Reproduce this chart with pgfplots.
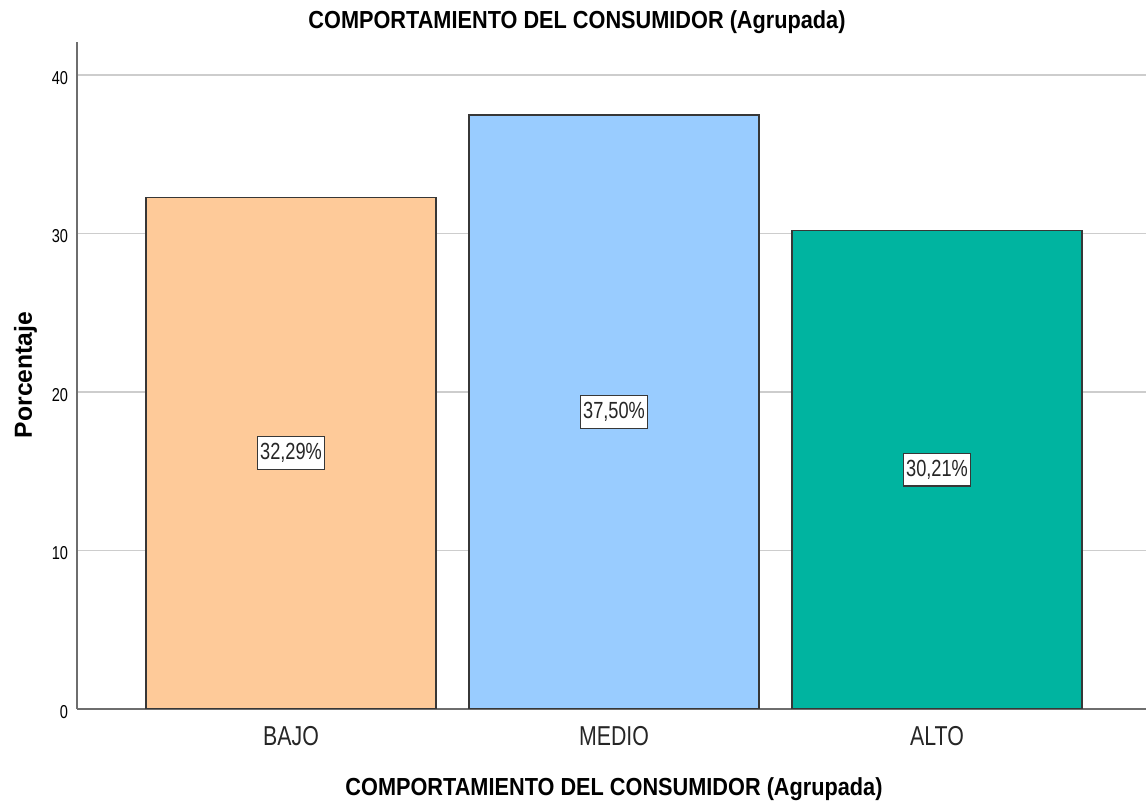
\documentclass[border=0pt]{standalone}
\usepackage{pgfplots}
\pgfplotsset{compat=1.18}
\usepackage{pgfplotstable}
\usepackage{fontspec}
\setmainfont[FakeStretch=0.78]{Liberation Sans}
\newfontfamily\titlefont[FakeStretch=0.88]{Liberation Sans}
\newfontfamily\widefont{Liberation Sans}
\definecolor{cBajo}{RGB}{254,202,153}
\definecolor{cMedio}{RGB}{153,204,255}
\definecolor{cAlto}{RGB}{0,180,160}
\definecolor{edge}{RGB}{55,55,55}
\definecolor{gridc}{RGB}{205,205,205}
\definecolor{axisc}{RGB}{110,110,110}
\pgfplotstableread{
x y lab
0 32.29 {32,29\%}
1 37.50 {37,50\%}
2 30.21 {30,21\%}
}\data
\begin{document}
\begin{tikzpicture}[x=1pt,y=1pt]
\path[use as bounding box] (0,0) rectangle (859.5,603.75);
\begin{axis}[
  at={(57.75pt,72pt)}, anchor=south west,
  scale only axis, width=801.75pt, height=500.25pt,
  xmin=-0.6625, xmax=2.647, ymin=0, ymax=42.1,
  axis x line*=bottom, axis y line*=left,
  axis line style={axisc, line width=1.3pt},
  major tick length=0pt,
  ytick={0,10,20,30,40}, yticklabels={0,10,20,30,40},
  xtick={0,1,2}, xticklabels={BAJO,MEDIO,ALTO},
  yticklabel style={font=\fontsize{14}{14}\selectfont, anchor=east, inner sep=0pt, xshift=-6.5pt, yshift=-2pt},
  xticklabel style={font=\fontsize{20.5}{20.5}\selectfont, anchor=north, inner sep=0pt, yshift=-12.5pt, text=black!85},
  ymajorgrids, grid style={gridc, line width=1.2pt},
]
\addplot[ybar, bar width=0.898, bar shift=0pt, fill=cBajo, draw=edge, line width=1pt] coordinates {(0,32.29)};
\addplot[ybar, bar width=0.898, bar shift=0pt, fill=cMedio, draw=edge, line width=1pt] coordinates {(1,37.50)};
\addplot[ybar, bar width=0.898, bar shift=0pt, fill=cAlto, draw=edge, line width=1pt] coordinates {(2,30.21)};
\addplot[sharp plot, draw=none, mark=none, nodes near coords, point meta=explicit symbolic,
  every node near coord/.style={anchor=center, draw=edge, line width=0.9pt, fill=white, text=black!85,
    font=\fontsize{17.5}{17.5}\selectfont, inner xsep=2pt, inner ysep=0pt, minimum height=24.5pt}]
  table[x=x, y expr=\thisrow{y}/2, meta=lab] {\data};
\end{axis}
\node[anchor=base, font=\titlefont\bfseries\fontsize{18.5}{18.5}\selectfont] at (432.75,582.4) {COMPORTAMIENTO DEL CONSUMIDOR (Agrupada)};
\node[anchor=base, font=\titlefont\bfseries\fontsize{18.5}{18.5}\selectfont] at (460.5,6.75) {COMPORTAMIENTO DEL CONSUMIDOR (Agrupada)};
\node[anchor=base, rotate=90, font=\widefont\bfseries\fontsize{18.5}{18.5}\selectfont] at (24,322.5) {Porcentaje};
\end{tikzpicture}
\end{document}
